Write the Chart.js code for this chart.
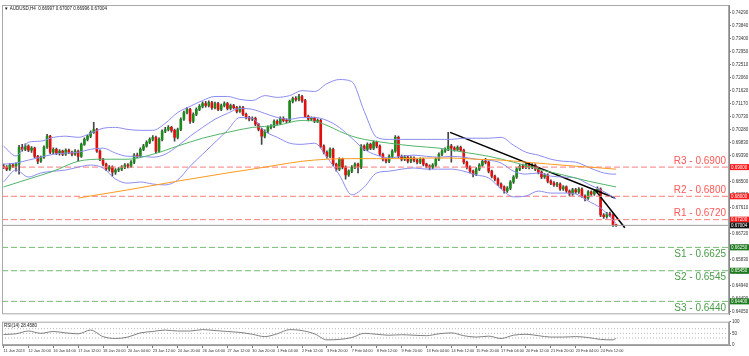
<!DOCTYPE html>
<html><head><meta charset="utf-8">
<script src="https://cdn.jsdelivr.net/npm/chart.js@4/dist/chart.umd.min.js"></script>
<style>
html,body{margin:0;padding:0;background:#fff;}
#wrap{position:relative;width:749px;height:356px;overflow:hidden;background:#fff;}
#main{position:absolute;left:0;top:0;}
#rsi{position:absolute;left:0;top:318px;}
</style></head><body>
<div id="wrap">
<canvas id="main" width="749" height="318"></canvas>
<canvas id="rsi" width="749" height="38"></canvas>
</div>
<script>
// ---------------- DATA ----------------
const headerText = '\u25BC AUDUSD,H4  0.66997 0.67007 0.66996 0.67004';
const rsiText = 'RSI(14) 28.4580';

const opens = [.6903,.6900,.6893,.6907,.6903,.6910,.6968,.6961,.6972,.6958,
.6965,.6937,.6920,.6934,.6968,.7006,.6951,.6961,.6948,.6955,
.6944,.6958,.6951,.6944,.6955,.6937,.6978,.6995,.7006,.7019,
.7029,.6955,.6927,.6910,.6893,.6900,.6883,.6890,.6893,.6900,
.6907,.6903,.6917,.6941,.6937,.6961,.6972,.6985,.6995,.7002,
.6955,.6995,.7023,.7029,.7036,.7026,.7002,.7029,.7064,.7087,
.7098,.7057,.7081,.7098,.7108,.7118,.7111,.7121,.7104,.7118,
.7098,.7111,.7118,.7101,.7111,.7104,.7091,.7104,.7081,.7070,
.7064,.7067,.7047,.7029,.7006,.7023,.7036,.7040,.7057,.7050,
.7067,.7060,.7058,.7125,.7135,.7132,.7142,.7128,.7074,.7064,
.7067,.7057,.7060,.6972,.6951,.6937,.6961,.6910,.6893,.6927,
.6900,.6873,.6886,.6900,.6910,.6900,.6972,.6961,.6978,.6965,
.6985,.6972,.6944,.6927,.6920,.6937,.6955,.7002,.6937,.6927,
.6934,.6920,.6931,.6924,.6917,.6927,.6910,.6903,.6900,.6907,
.6927,.6944,.6955,.6961,.6972,.6965,.6961,.6968,.6958,.6917,
.6900,.6886,.6876,.6893,.6907,.6920,.6917,.6886,.6869,.6859,
.6842,.6832,.6818,.6828,.6849,.6866,.6893,.6903,.6900,.6910,
.6900,.6907,.6893,.6883,.6866,.6873,.6852,.6845,.6839,.6842,
.6825,.6832,.6818,.6808,.6822,.6815,.6825,.6801,.6794,.6815,
.6808,.6818,.6825,.6736,.6730,.6740,.6736,.6702];

const highs = [.6910,.6905,.6912,.6913,.6915,.6975,.6978,.6980,.6976,.6970,
.6969,.6940,.6938,.6973,.7012,.7009,.6966,.6965,.6960,.6958,
.6963,.6962,.6955,.6960,.6958,.6982,.7000,.7010,.7024,.7053,
.7033,.6959,.6930,.6914,.6905,.6904,.6895,.6898,.6905,.6912,
.6912,.6922,.6946,.6948,.6966,.6978,.6990,.7000,.7008,.7006,
.7000,.7028,.7036,.7042,.7040,.7030,.7034,.7069,.7092,.7105,
.7101,.7086,.7103,.7114,.7124,.7125,.7127,.7125,.7123,.7122,
.7116,.7124,.7122,.7116,.7115,.7108,.7109,.7108,.7085,.7074,
.7072,.7071,.7050,.7033,.7028,.7041,.7046,.7062,.7062,.7072,
.7072,.7065,.7130,.7140,.7142,.7149,.7146,.7132,.7078,.7072,
.7071,.7065,.7064,.6976,.6956,.6966,.6965,.6914,.6932,.6931,
.6904,.6891,.6905,.6915,.6914,.6977,.6976,.6983,.6982,.6990,
.6989,.6976,.6948,.6931,.6942,.6960,.7008,.7006,.6941,.6940,
.6938,.6936,.6935,.6928,.6932,.6931,.6914,.6908,.6912,.6932,
.6949,.6960,.6966,.7019,.6978,.6970,.6973,.6972,.6962,.6921,
.6904,.6890,.6898,.6912,.6926,.6930,.6921,.6890,.6873,.6863,
.6846,.6836,.6833,.6854,.6871,.6898,.6909,.6910,.6916,.6914,
.6912,.6911,.6897,.6887,.6878,.6877,.6856,.6850,.6848,.6846,
.6837,.6836,.6822,.6827,.6827,.6830,.6829,.6805,.6820,.6819,
.6823,.6832,.6829,.6741,.6745,.6746,.6740,.6704];

const lows = [.6895,.6888,.6889,.6898,.6886,.6876,.6955,.6956,.6953,.6950,
.6932,.6912,.6916,.6930,.6964,.6946,.6945,.6943,.6941,.6939,
.6940,.6946,.6938,.6940,.6920,.6933,.6974,.6990,.7001,.7015,
.6950,.6922,.6905,.6888,.6886,.6869,.6875,.6884,.6888,.6895,
.6897,.6899,.6912,.6932,.6933,.6956,.6968,.6980,.6990,.6948,
.6950,.6990,.7018,.7024,.7020,.6989,.6997,.7025,.7060,.7082,
.7050,.7052,.7076,.7093,.7103,.7105,.7106,.7098,.7099,.7093,
.7093,.7106,.7096,.7096,.7099,.7086,.7087,.7076,.7065,.7058,
.7059,.7042,.7024,.6978,.7000,.7018,.7031,.7035,.7045,.7045,
.7055,.7052,.7053,.7120,.7126,.7127,.7122,.7069,.7058,.7059,
.7052,.7052,.6966,.6945,.6931,.6932,.6904,.6886,.6888,.6894,
.6859,.6868,.6881,.6895,.6880,.6895,.6956,.6956,.6960,.6960,
.6966,.6939,.6921,.6914,.6915,.6932,.6950,.6932,.6921,.6922,
.6914,.6915,.6918,.6911,.6912,.6904,.6897,.6890,.6895,.6902,
.6922,.6939,.6950,.6956,.6917,.6955,.6956,.6953,.6911,.6894,
.6880,.6866,.6871,.6888,.6902,.6911,.6880,.6863,.6853,.6836,
.6826,.6811,.6813,.6823,.6844,.6861,.6888,.6895,.6895,.6894,
.6895,.6888,.6877,.6860,.6861,.6846,.6840,.6834,.6833,.6820,
.6820,.6813,.6802,.6803,.6810,.6810,.6796,.6784,.6789,.6803,
.6803,.6813,.6730,.6724,.6725,.6730,.6697,.6697];

const closes = [.6900,.6893,.6907,.6903,.6910,.6968,.6961,.6972,.6958,.6965,
.6937,.6920,.6934,.6968,.7006,.6951,.6961,.6948,.6955,.6944,
.6958,.6951,.6944,.6955,.6937,.6978,.6995,.7006,.7019,.7029,
.6955,.6927,.6910,.6893,.6900,.6883,.6890,.6893,.6900,.6907,
.6903,.6917,.6941,.6937,.6961,.6972,.6985,.6995,.7002,.6955,
.6995,.7023,.7029,.7036,.7026,.7002,.7029,.7064,.7087,.7098,
.7057,.7081,.7098,.7108,.7118,.7111,.7121,.7104,.7118,.7098,
.7111,.7118,.7101,.7111,.7104,.7091,.7104,.7081,.7070,.7064,
.7067,.7047,.7029,.7006,.7023,.7036,.7040,.7057,.7050,.7067,
.7060,.7058,.7125,.7135,.7132,.7142,.7128,.7074,.7064,.7067,
.7057,.7060,.6972,.6951,.6937,.6961,.6910,.6893,.6927,.6900,
.6873,.6886,.6900,.6910,.6900,.6972,.6961,.6978,.6965,.6985,
.6972,.6944,.6927,.6920,.6937,.6955,.7002,.6937,.6927,.6934,
.6920,.6931,.6924,.6917,.6927,.6910,.6903,.6900,.6907,.6927,
.6944,.6955,.6961,.6972,.6965,.6961,.6968,.6958,.6917,.6900,
.6886,.6876,.6893,.6907,.6920,.6917,.6886,.6869,.6859,.6842,
.6832,.6818,.6828,.6849,.6866,.6893,.6903,.6900,.6910,.6900,
.6907,.6893,.6883,.6866,.6873,.6852,.6845,.6839,.6842,.6825,
.6832,.6818,.6808,.6822,.6815,.6825,.6801,.6794,.6815,.6808,
.6818,.6825,.6736,.6730,.6740,.6736,.6702,.6700];

// Bollinger bands (read at every 4th bar)
const bbIdx = [0,4,8,12,16,20,24,28,32,36,40,44,48,52,56,60,64,68,72,76,80,84,88,92,96,100,104,108,112,116,120,124,128,132,136,140,144,148,152,156,160,164,168,172,176,180,184,188,192,196,197];
const bbUpper = [.6972,.6938,.6985,.6989,.7002,.7006,.7002,.7016,.7033,.7036,.7029,.7026,.7026,.7050,.7087,.7108,.7128,.7142,.7142,.7132,.7128,.7145,.7139,.7145,.7162,.7159,.7186,.7200,.7193,.7091,.7002,.6995,.6995,.6995,.6995,.6995,.6995,.6999,.6999,.6999,.7002,.6975,.6951,.6941,.6927,.6920,.6917,.6900,.6883,.6876,.6876];
const bbMiddle = [.6910,.6914,.6924,.6934,.6944,.6948,.6951,.6961,.6965,.6948,.6937,.6937,.6934,.6944,.6972,.7006,.7036,.7064,.7084,.7101,.7098,.7084,.7070,.7064,.7070,.7070,.7060,.7036,.6999,.6961,.6941,.6931,.6937,.6941,.6937,.6934,.6937,.6934,.6927,.6924,.6914,.6886,.6876,.6880,.6869,.6866,.6863,.6842,.6822,.6798,.6791];
const bbLower = [.6849,.6890,.6866,.6880,.6886,.6890,.6900,.6907,.6897,.6859,.6845,.6849,.6842,.6839,.6856,.6903,.6944,.6985,.7026,.7070,.7067,.7023,.7002,.6982,.6978,.6982,.6934,.6873,.6805,.6832,.6880,.6886,.6893,.6897,.6893,.6893,.6893,.6886,.6873,.6863,.6825,.6798,.6801,.6818,.6811,.6811,.6808,.6784,.6760,.6719,.6706];

// Moving averages
const maGreenIdx = [0,8,16,24,32,40,48,56,64,72,80,88,96,100,104,108,112,116,124,132,140,148,156,164,172,180,188,197];
const maGreen = [.6832,.6859,.6886,.6920,.6927,.6927,.6944,.6972,.6999,.7019,.7036,.7043,.7060,.7057,.7043,.7023,.7006,.6995,.6982,.6972,.6965,.6951,.6937,.6917,.6893,.6873,.6852,.6832];
const maOrangeIdx = [24,40,56,72,80,88,96,104,112,120,128,136,144,152,160,168,176,184,192,197];
const maOrange = [.6794,.6822,.6852,.6880,.6893,.6907,.6920,.6927,.6929,.6929,.6929,.6931,.6931,.6927,.6924,.6917,.6910,.6903,.6897,.6893];

// RSI(14)
const rsiIdx = bbIdx;
const rsiValues = [45,48,60,50,58,52,48,64,36,28,34,52,58,64,60,60,66,62,58,54,46,36,48,66,62,48,22,24,32,50,46,42,44,42,40,48,52,40,34,38,28,42,46,40,34,34,36,32,24,22,28.46];
const rsiLevels = [70,50,30];
const rsiTicks = [0,30,50,70,100];

// Support / resistance levels
const levelNames = ['R3','R2','R1','S1','S2','S3'];
const levelValues = [0.6900,0.6800,0.6720,0.6625,0.6545,0.6440];
const currentPrice = 0.67004;

// Trend lines (bar index, price)
const trend1X = [143.6,196.6], trend1Y = [0.7019,0.6794];
const trend2X = [190.2,199.8], trend2Y = [0.6822,0.6692];

// Axis ticks
const yTicks = [0.7429,0.7384,0.7340,0.7295,0.7251,0.7206,0.7162,0.7117,0.7073,0.7028,0.6983,0.6939,0.6894,0.6850,0.6805,0.6761,0.6716,0.6672,0.6627,0.6583,0.6538,0.6494,0.6449,0.6405];
const xLabelIdx = [0,8,16,24,32,40,48,56,64,72,80,88,96,104,112,120,128,136,144,152,160,168,176,184,192];
const xLabels = ['11 Jan 2023','12 Jan 20:00','16 Jan 04:00','17 Jan 12:00','18 Jan 20:00','20 Jan 04:00','23 Jan 12:00','24 Jan 20:00','26 Jan 04:00','27 Jan 12:00','30 Jan 20:00','1 Feb 04:00','2 Feb 12:00','3 Feb 20:00','7 Feb 04:00','8 Feb 12:00','9 Feb 20:00','13 Feb 04:00','14 Feb 12:00','15 Feb 20:00','17 Feb 04:00','20 Feb 12:00','21 Feb 20:00','23 Feb 04:00','24 Feb 12:00'];

// ---------------- CHART ----------------
const X_MIN = -0.5, X_MAX = 233.3;
const Y_MIN = 0.63957, Y_MAX = 0.74554;
const FONT = '"Liberation Sans", Arial, sans-serif';
const SMALL = 4.5;
const XFONT = 3.9;
const UP = '#1c8c1c', DOWN = '#e01010';

const pts = (xs, ys) => xs.map((x, k) => ({x: x, y: ys[k]}));
const lineDs = (data, color, extra) => Object.assign({
  type: 'line', data: data, borderColor: color, borderWidth: 1, pointRadius: 0,
  fill: false, order: 0, cubicInterpolationMode: 'monotone'
}, extra || {});

const wickData = closes.map((c, i) => ({x: i, y: [lows[i], highs[i]]}));
const bodyData = closes.map((c, i) => ({x: i, y: [opens[i], c]}));
const bodyColors = closes.map((c, i) => c >= opens[i] ? UP : DOWN);

const levelDatasets = levelValues.map((v, k) => lineDs(
  [{x: X_MIN, y: v}, {x: X_MAX, y: v}],
  k < 3 ? '#ff7b7b' : '#72bb72',
  {borderDash: [6, 3], cubicInterpolationMode: 'default'}
));

const mainDecor = {
  id: 'mainDecor',
  afterDraw(chart) {
    const ctx = chart.ctx, a = chart.chartArea, y = chart.scales.y;
    ctx.save();
    ctx.strokeStyle = '#a8a8a8'; ctx.lineWidth = 1;
    ctx.strokeRect(a.left + 0.5, a.top + 0.5, a.right - a.left - 1, a.bottom - a.top - 1);
    // level captions
    ctx.font = '10px ' + FONT;
    ctx.textAlign = 'right';
    levelValues.forEach((v, k) => {
      const py = y.getPixelForValue(v);
      const isR = k < 3;
      ctx.fillStyle = isR ? '#ff5858' : '#4a9a4a';
      ctx.textBaseline = isR ? 'bottom' : 'top';
      ctx.fillText(levelNames[k] + ' - ' + v.toFixed(4), a.right - 3, isR ? py - 1 : py + 2);
    });
    // axis price boxes
    const box = (v, fill) => {
      const py = y.getPixelForValue(v);
      ctx.fillStyle = fill;
      ctx.fillRect(a.right + 1, py - 3, 19, 6);
      ctx.fillStyle = '#fff';
      ctx.font = SMALL + 'px ' + FONT;
      ctx.textAlign = 'left'; ctx.textBaseline = 'middle';
      ctx.fillText(v.toFixed(5), a.right + 2, py + 0.3);
    };
    levelValues.forEach((v, k) => box(v, k < 3 ? '#ff1a1a' : '#1d7a1d'));
    box(currentPrice, '#111');
    // header
    ctx.fillStyle = '#111';
    ctx.font = SMALL + 'px ' + FONT;
    ctx.textAlign = 'left'; ctx.textBaseline = 'middle';
    ctx.fillText(headerText, a.left + 2, a.top + 3.5);
    ctx.restore();
  }
};

new Chart(document.getElementById('main'), {
  type: 'bar',
  data: {
    datasets: [
      {type: 'bar', data: wickData, backgroundColor: '#444', barThickness: 1, grouped: false, order: 3},
      {type: 'bar', data: bodyData, backgroundColor: bodyColors, barThickness: 2, grouped: false, minBarLength: 1, order: 2},
      lineDs(pts(maOrangeIdx, maOrange), '#ff9a1e'),
      lineDs(pts(maGreenIdx, maGreen), '#52b56a'),
      lineDs(pts(bbIdx, bbUpper), '#8c8cf2'),
      lineDs(pts(bbIdx, bbMiddle), '#8c8cf2'),
      lineDs(pts(bbIdx, bbLower), '#8c8cf2'),
      ...levelDatasets,
      lineDs([{x: X_MIN, y: currentPrice}, {x: X_MAX, y: currentPrice}], '#a0a0a0', {cubicInterpolationMode: 'default'}),
      lineDs(pts(trend1X, trend1Y), '#000', {borderWidth: 1.6, cubicInterpolationMode: 'default'}),
      lineDs(pts(trend2X, trend2Y), '#000', {borderWidth: 1.6, cubicInterpolationMode: 'default'})
    ]
  },
  options: {
    responsive: false, animation: false, events: [],
    plugins: {legend: {display: false}, tooltip: {enabled: false}},
    layout: {padding: {left: 2, right: 0, top: 5, bottom: 2}},
    scales: {
      x: {type: 'linear', min: X_MIN, max: X_MAX, offset: false, display: false},
      y: {
        type: 'linear', position: 'right', min: Y_MIN, max: Y_MAX,
        afterBuildTicks(s) { s.ticks = yTicks.map(v => ({value: v})); },
        afterFit(s) { s.width = 20; },
        ticks: {font: {size: SMALL, family: FONT}, color: '#333', padding: 1, callback: v => Number(v).toFixed(5)},
        grid: {drawOnChartArea: false, tickLength: 2, color: '#777'},
        border: {color: '#888'}
      }
    }
  },
  plugins: [mainDecor]
});

const rsiDecor = {
  id: 'rsiDecor',
  afterDraw(chart) {
    const ctx = chart.ctx, a = chart.chartArea;
    ctx.save();
    ctx.strokeStyle = '#a8a8a8'; ctx.lineWidth = 1;
    ctx.strokeRect(a.left + 0.5, a.top + 0.5, a.right - a.left - 1, a.bottom - a.top - 1);
    ctx.fillStyle = '#111';
    ctx.font = SMALL + 'px ' + FONT;
    ctx.textAlign = 'left'; ctx.textBaseline = 'middle';
    ctx.fillText(rsiText, a.left + 2, a.top + 4);
    ctx.restore();
  }
};

new Chart(document.getElementById('rsi'), {
  type: 'line',
  data: {
    datasets: [
      lineDs(pts(rsiIdx, rsiValues), '#808080'),
      ...rsiLevels.map(v => lineDs([{x: X_MIN, y: v}, {x: X_MAX, y: v}], '#b8b8b8', {borderDash: [1, 2], cubicInterpolationMode: 'default'}))
    ]
  },
  options: {
    responsive: false, animation: false, events: [],
    plugins: {legend: {display: false}, tooltip: {enabled: false}},
    layout: {padding: {left: 2, right: 0, top: 1, bottom: 0}},
    scales: {
      x: {
        type: 'linear', min: X_MIN, max: X_MAX, offset: false,
        afterBuildTicks(s) { s.ticks = xLabelIdx.map(v => ({value: v})); },
        afterFit(s) { s.height = 11; },
        ticks: {autoSkip: false, maxRotation: 0, minRotation: 0, align: 'start', font: {size: XFONT, family: FONT}, color: '#333', padding: 1,
                callback: (v, i) => xLabels[i]},
        grid: {drawOnChartArea: false, tickLength: 3, color: '#777'},
        border: {color: '#999'}
      },
      y: {
        type: 'linear', position: 'right', min: 0, max: 100,
        afterBuildTicks(s) { s.ticks = rsiTicks.map(v => ({value: v})); },
        afterFit(s) { s.width = 20; },
        ticks: {font: {size: SMALL, family: FONT}, color: '#333', padding: 1},
        grid: {drawOnChartArea: false, tickLength: 2, color: '#777'},
        border: {color: '#999'}
      }
    }
  },
  plugins: [rsiDecor]
});
</script>
</body></html>
